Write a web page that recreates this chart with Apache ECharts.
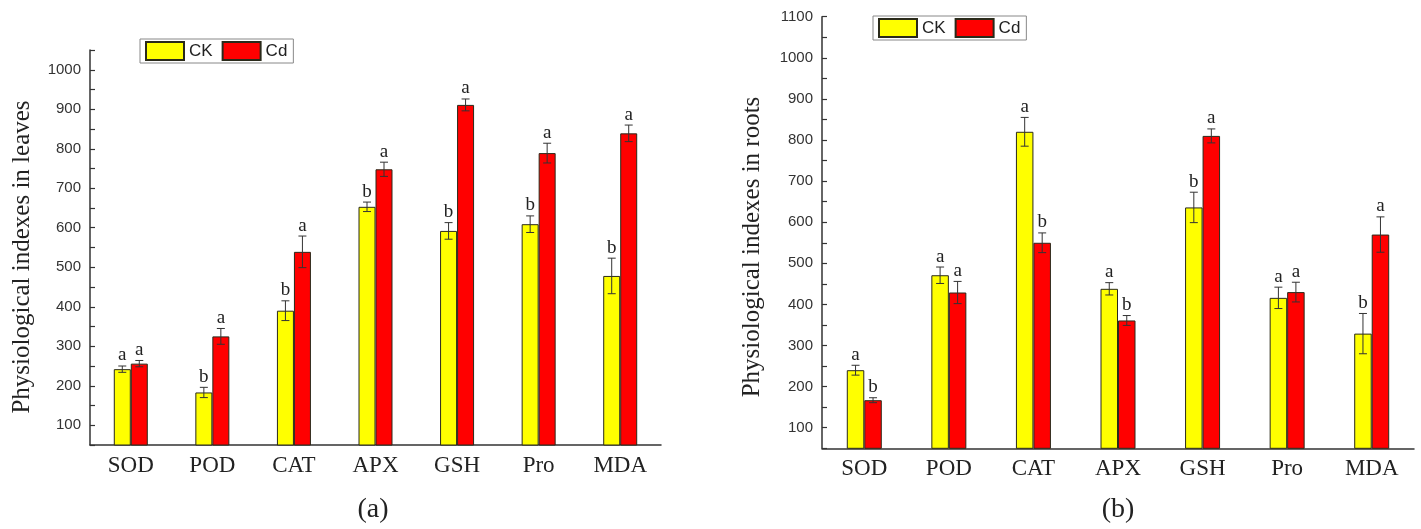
<!DOCTYPE html>
<html><head><meta charset="utf-8">
<script src="https://cdn.jsdelivr.net/npm/echarts@6/dist/echarts.min.js"></script>
<style>html,body{margin:0;padding:0;background:#fff}#c{width:1421px;height:529px}</style>
</head><body><div id="c"></div>
<script>
// ---- data ----
const categories = ['SOD', 'POD', 'CAT', 'APX', 'GSH', 'Pro', 'MDA'];
const leavesCK    = [242, 183, 390, 653, 592, 609, 478];
const leavesCd    = [256, 325, 539, 748, 911, 789, 839];
const leavesCKErr = [8, 13, 25, 12, 21, 21, 45];
const leavesCdErr = [8, 20, 40, 18, 15, 25, 21];
const leavesCKSig = ['a', 'b', 'b', 'b', 'b', 'b', 'b'];
const leavesCdSig = ['a', 'a', 'a', 'a', 'a', 'a', 'a'];
const rootsCK     = [240, 471, 820, 438, 636, 416, 329];
const rootsCd     = [167, 429, 550, 361, 810, 430, 570];
const rootsCKErr  = [12, 20, 35, 15, 37, 26, 49];
const rootsCdErr  = [6, 27, 24, 12, 17, 24, 43];
const rootsCKSig  = ['a', 'a', 'a', 'a', 'b', 'a', 'b'];
const rootsCdSig  = ['b', 'a', 'b', 'b', 'a', 'a', 'a'];
const yTickLabelsLeaves = ['100','200','300','400','500','600','700','800','900','1000'];
const yTickLabelsRoots  = ['100','200','300','400','500','600','700','800','900','1000','1100'];
const seriesNames = ['CK', 'Cd'];
const titleLeaves = 'Physiological indexes in leaves';
const titleRoots = 'Physiological indexes in roots';

// ---- styles ----
const SERIF = '"Liberation Serif", "Times New Roman", serif';
const SANS = '"Liberation Sans", Arial, sans-serif';
const AX = '#333';
const COLORS = ['#ffff00', '#ff0000'];

function xAx(gi) {
  return {
    type: 'category', gridIndex: gi, data: categories, boundaryGap: true,
    axisLine: { lineStyle: { color: AX, width: 1.5 } },
    axisTick: { inside: true, length: 6, interval: 0, lineStyle: { color: AX, width: 1.2 } },
    axisLabel: { fontFamily: SERIF, fontSize: 23, color: '#222', margin: 9, interval: 0 },
    splitLine: { show: false }
  };
}
function yAx(gi, max, labels) {
  return {
    type: 'value', gridIndex: gi, min: 50, max: max, interval: 50,
    axisLine: { show: true, lineStyle: { color: AX, width: 1.5 } },
    axisTick: { show: true, inside: true, length: 5, lineStyle: { color: AX, width: 1.2 } },
    axisLabel: {
      fontFamily: SANS, fontSize: 15, color: '#333', margin: 9,
      formatter: v => labels.indexOf(String(v)) >= 0 ? String(v) : ''
    },
    splitLine: { show: false }
  };
}
function barS(name, gi, data, color, w) {
  return {
    name: name, type: 'bar', xAxisIndex: gi, yAxisIndex: gi, data: data,
    barWidth: w, barGap: '0%',
    itemStyle: { color: color, borderColor: '#2a2a1a', borderWidth: 1 },
    z: 2
  };
}
function errS(gi, vals, errs, sigs, side, w) {
  return {
    type: 'custom', xAxisIndex: gi, yAxisIndex: gi, z: 5, silent: true,
    data: vals.map((v, i) => [i, v, errs[i]]),
    encode: { x: 0, y: 1 },
    renderItem: function (params, api) {
      const i = api.value(0), v = api.value(1), e = api.value(2);
      const c = api.coord([i, v]);
      const hi = api.coord([i, v + e]);
      const lo = api.coord([i, v - e]);
      const x = c[0] + side * w / 2;
      const cap = 4;
      const ls = { stroke: '#333', lineWidth: 1 };
      return {
        type: 'group',
        children: [
          { type: 'line', shape: { x1: x, y1: hi[1], x2: x, y2: lo[1] }, style: ls },
          { type: 'line', shape: { x1: x - cap, y1: hi[1], x2: x + cap, y2: hi[1] }, style: ls },
          { type: 'line', shape: { x1: x - cap, y1: lo[1], x2: x + cap, y2: lo[1] }, style: ls },
          { type: 'text', x: x, y: hi[1] - 1,
            style: { text: sigs[params.dataIndex], font: '19px ' + SERIF, fill: '#222',
                     align: 'center', verticalAlign: 'bottom' } }
        ]
      };
    }
  };
}
function legendAt(left, top) {
  return {
    left: left, top: top, orient: 'horizontal', data: seriesNames,
    itemWidth: 38, itemHeight: 18, itemGap: 9, icon: 'rect',
    padding: [2, 6, 2, 5], borderColor: '#888', borderWidth: 1, borderRadius: 0,
    textStyle: { fontFamily: SANS, fontSize: 17, color: '#222', padding: [0, 0, 0, 0] },
    selectedMode: false
  };
}

const WA = 17, WB = 17.5;
const chart = echarts.init(document.getElementById('c'), null, { renderer: 'canvas' });
chart.setOption({
  backgroundColor: '#fff',
  animation: false,
  grid: [
    { left: 90, right: 760, top: 50, bottom: 84 },
    { left: 822, right: 7, top: 16.7, bottom: 80.7 }
  ],
  legend: [legendAt(140, 39), legendAt(873, 16)],
  xAxis: [xAx(0), xAx(1)],
  yAxis: [yAx(0, 1050, yTickLabelsLeaves), yAx(1, 1100, yTickLabelsRoots)],
  series: [
    barS(seriesNames[0], 0, leavesCK, COLORS[0], WA),
    barS(seriesNames[1], 0, leavesCd, COLORS[1], WA),
    barS(seriesNames[0], 1, rootsCK, COLORS[0], WB),
    barS(seriesNames[1], 1, rootsCd, COLORS[1], WB),
    errS(0, leavesCK, leavesCKErr, leavesCKSig, -1, WA),
    errS(0, leavesCd, leavesCdErr, leavesCdSig, 1, WA),
    errS(1, rootsCK, rootsCKErr, rootsCKSig, -1, WB),
    errS(1, rootsCd, rootsCdErr, rootsCdSig, 1, WB)
  ],
  graphic: [
    { type: 'text', x: 22, y: 257, rotation: Math.PI / 2,
      style: { text: titleLeaves, font: '25px ' + SERIF, fill: '#222', align: 'center', verticalAlign: 'middle' } },
    { type: 'text', x: 752, y: 247, rotation: Math.PI / 2,
      style: { text: titleRoots, font: '25px ' + SERIF, fill: '#222', align: 'center', verticalAlign: 'middle' } },
    { type: 'text', x: 373, y: 510,
      style: { text: '(a)', font: '28px ' + SERIF, fill: '#222', align: 'center', verticalAlign: 'middle' } },
    { type: 'text', x: 1118, y: 510,
      style: { text: '(b)', font: '28px ' + SERIF, fill: '#222', align: 'center', verticalAlign: 'middle' } }
  ]
});
</script>
</body></html>
